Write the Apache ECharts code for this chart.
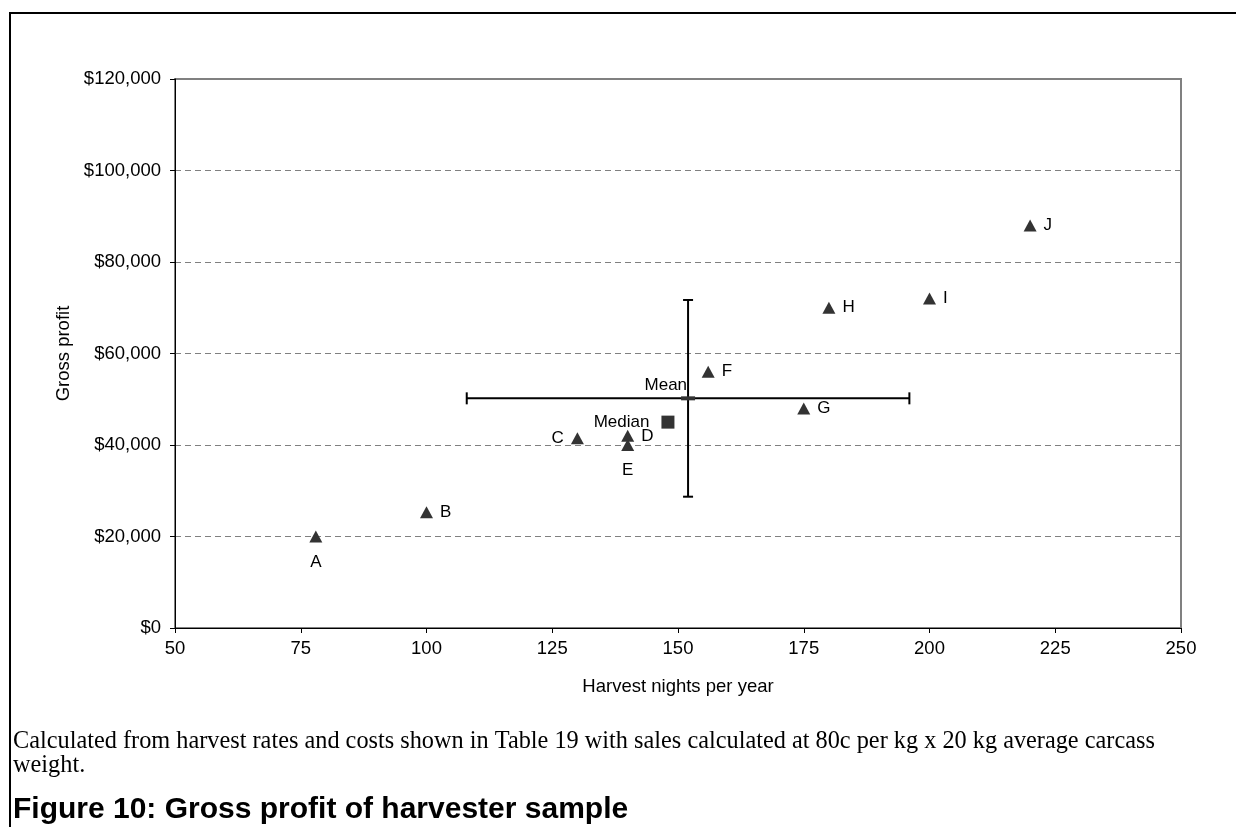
<!DOCTYPE html>
<html>
<head>
<meta charset="utf-8">
<script src="https://cdn.jsdelivr.net/npm/echarts@6/dist/echarts.min.js"></script>
<style>
html,body{margin:0;padding:0;background:#fff;}
#chart{width:1236px;height:827px;}
</style>
</head>
<body>
<div id="chart"></div>
<script>
// ---- data ----
const pointNames = ['A', 'B', 'C', 'D', 'E', 'F', 'G', 'H', 'I', 'J'];
const harvestNights = [78, 100, 130, 140, 140, 156, 175, 180, 200, 220];
const grossProfit = [20000, 25300, 41500, 42000, 40000, 56000, 48000, 70000, 72000, 88000];
const meanNights = 152;
const meanProfit = 50200;
const nightsErr = 44;
const profitErr = 21500;
const medianNights = 148;
const medianProfit = 45000;
const xTicks = [50, 75, 100, 125, 150, 175, 200, 225, 250];
const yTicks = [0, 20000, 40000, 60000, 80000, 100000, 120000];

const captionLine1 = 'Calculated from harvest rates and costs shown in Table 19 with sales calculated at 80c per kg x 20 kg average carcass';
const captionLine2 = 'weight.';
const figureTitle = 'Figure 10: Gross profit of harvester sample';

// ---- styling ----
const labelSide = { A: 'bottom', C: 'left', E: 'bottom' };
const sans = "'Liberation Sans', Arial, sans-serif";
const serif = "'Liberation Serif', 'Times New Roman', serif";

const chart = echarts.init(document.getElementById('chart'));

const pointData = pointNames.map((n, i) => {
  const side = labelSide[n] || 'right';
  return {
    name: n,
    value: [harvestNights[i], grossProfit[i]],
    label: { position: side, distance: side === 'bottom' ? 11 : 7 }
  };
});

const option = {
  animation: false,
  backgroundColor: '#fff',
  grid: {
    left: 175, right: 55, top: 79, bottom: 199,
    show: true, borderColor: '#808080', borderWidth: 2, backgroundColor: 'transparent'
  },
  xAxis: {
    type: 'value',
    min: xTicks[0], max: xTicks[xTicks.length - 1], interval: 25,
    name: 'Harvest nights per year',
    nameLocation: 'middle', nameGap: 49,
    nameTextStyle: { fontFamily: sans, fontSize: 18.5, color: '#000' },
    axisLine: { show: true, lineStyle: { color: '#000', width: 1 } },
    axisTick: { show: true, length: 5, inside: false, lineStyle: { color: '#000' } },
    axisLabel: { fontFamily: sans, fontSize: 18.5, color: '#000', margin: 11 },
    splitLine: { show: false }
  },
  yAxis: {
    type: 'value',
    min: yTicks[0], max: yTicks[yTicks.length - 1], interval: 20000,
    name: 'Gross profit',
    nameLocation: 'middle', nameGap: 102, nameRotate: 90,
    nameTextStyle: { fontFamily: sans, fontSize: 18.5, color: '#000' },
    axisLine: { show: true, lineStyle: { color: '#000', width: 1 } },
    axisTick: { show: true, length: 5, inside: false, lineStyle: { color: '#000' } },
    axisLabel: {
      fontFamily: sans, fontSize: 18.5, color: '#000', margin: 14,
      formatter: v => '$' + v.toLocaleString('en-US')
    },
    splitLine: { show: true, lineStyle: { color: '#808080', type: [6, 4], width: 1 } }
  },
  series: [
    {
      type: 'custom',
      name: 'Mean error bars',
      z: 3,
      data: [[meanNights, meanProfit, nightsErr, profitErr]],
      encode: { x: 0, y: 1 },
      renderItem: function (params, api) {
        const mx = api.value(0), my = api.value(1), ex = api.value(2), ey = api.value(3);
        const l = api.coord([mx - ex, my]);
        const r = api.coord([mx + ex, my]);
        const t = api.coord([mx, my + ey]);
        const b = api.coord([mx, my - ey]);
        const st = { stroke: '#000', lineWidth: 2 };
        const cap = 6, capV = 5;
        return {
          type: 'group',
          children: [
            { type: 'line', shape: { x1: l[0], y1: l[1], x2: r[0], y2: r[1] }, style: st },
            { type: 'line', shape: { x1: l[0], y1: l[1] - cap, x2: l[0], y2: l[1] + cap }, style: st },
            { type: 'line', shape: { x1: r[0], y1: r[1] - cap, x2: r[0], y2: r[1] + cap }, style: st },
            { type: 'line', shape: { x1: t[0], y1: t[1], x2: b[0], y2: b[1] }, style: st },
            { type: 'line', shape: { x1: t[0] - capV, y1: t[1], x2: t[0] + capV, y2: t[1] }, style: st },
            { type: 'line', shape: { x1: b[0] - capV, y1: b[1], x2: b[0] + capV, y2: b[1] }, style: st }
          ]
        };
      }
    },
    {
      type: 'scatter',
      name: 'Harvesters',
      z: 4,
      symbol: 'triangle',
      symbolSize: [13, 12],
      itemStyle: { color: '#333333', opacity: 1 },
      label: {
        show: true, formatter: '{b}',
        fontFamily: sans, fontSize: 17, color: '#000'
      },
      data: pointData
    },
    {
      type: 'scatter',
      name: 'Median',
      z: 4,
      symbol: 'rect',
      symbolSize: 13,
      itemStyle: { color: '#333333', opacity: 1 },
      label: {
        show: true, formatter: 'Median', position: 'left', distance: 12,
        fontFamily: sans, fontSize: 17, color: '#000'
      },
      data: [[medianNights, medianProfit]]
    },
    {
      type: 'scatter',
      name: 'Mean',
      z: 5,
      symbol: 'rect',
      symbolSize: [14, 4],
      itemStyle: { color: '#333333', opacity: 1 },
      label: {
        show: true, formatter: 'Mean', position: 'top', align: 'right', distance: 3,
        offset: [-1, 0],
        fontFamily: sans, fontSize: 17, color: '#000'
      },
      data: [[meanNights, meanProfit]]
    }
  ],
  graphic: [
    { type: 'line', shape: { x1: 9, y1: 13, x2: 1236, y2: 13 }, style: { stroke: '#000', lineWidth: 2 } },
    { type: 'line', shape: { x1: 10, y1: 12, x2: 10, y2: 827 }, style: { stroke: '#000', lineWidth: 2 } },
    { type: 'text', left: 13, top: 730, style: { text: captionLine1, font: "24.3px " + serif, fill: '#000' } },
    { type: 'text', left: 13, top: 754, style: { text: captionLine2, font: "24.3px " + serif, fill: '#000' } },
    { type: 'text', left: 13, top: 795, style: { text: figureTitle, font: "bold 30px " + sans, fill: '#000' } }
  ]
};

chart.setOption(option);
</script>
</body>
</html>
